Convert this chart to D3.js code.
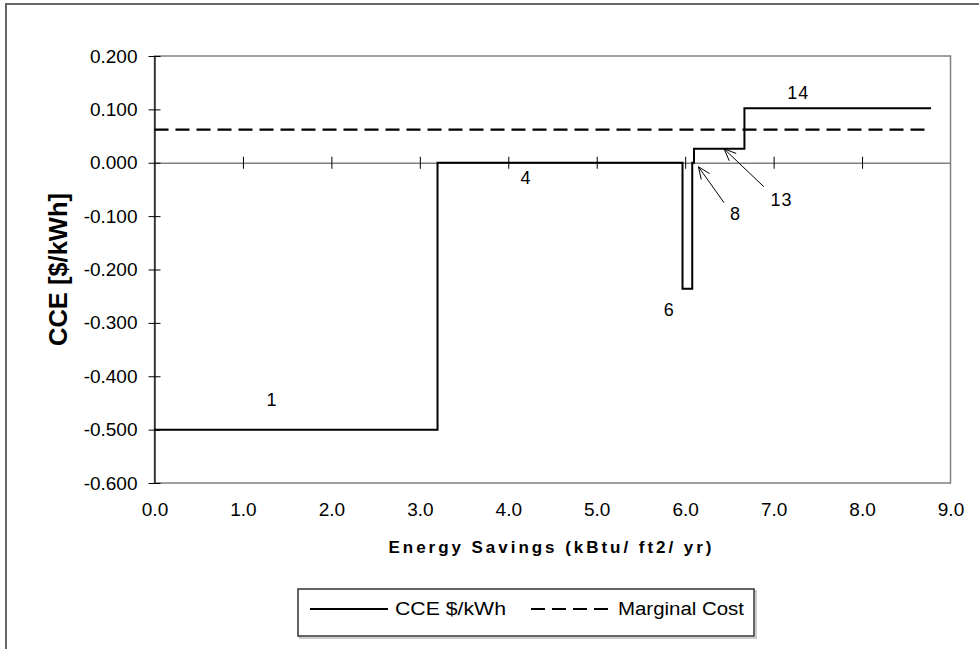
<!DOCTYPE html>
<html>
<head>
<meta charset="utf-8">
<script src="https://d3js.org/d3.v7.min.js"></script>
<style>
  body { margin: 0; background: #fff; }
  svg { display: block; font-family: "Liberation Sans", Arial, sans-serif; }
</style>
</head>
<body>
<svg id="chart" width="979" height="649"></svg>
<script>
// step breakpoints of the conserved-energy supply curve
const savingsBreaks = [0, 3.2, 5.97, 6.08, 6.10, 6.67, 8.78];
const cceValues = [-0.5, 0, -0.236, 0, 0.026, 0.102];
const marginalCost = 0.062;

const xTicks = [0, 1, 2, 3, 4, 5, 6, 7, 8, 9];
const yTicks = [0.2, 0.1, 0, -0.1, -0.2, -0.3, -0.4, -0.5, -0.6];

// measure numbers written on the curve
const measureLabels = ['1', '4', '6', '8', '13', '14'];
const labelX = [1.33, 4.20, 5.82, 6.57, 7.09, 7.28];
const labelY = [-0.444, -0.028, -0.276, -0.095, -0.069, 0.132];

// arrows for measures 8 and 13 (from, to)
const arrowFromX = [6.44, 6.89];
const arrowFromY = [-0.075, -0.045];
const arrowToX = [6.15, 6.44];
const arrowToY = [-0.0075, 0.026];

const svg = d3.select('#chart');

// outer chart frame
svg.append('rect')
  .attr('x', 6).attr('y', 4)
  .attr('width', 1000).attr('height', 700)
  .attr('fill', 'none')
  .attr('stroke', '#666')
  .attr('stroke-width', 2);

const plotL = 154.5, plotR = 950.5, plotT = 56, plotB = 483;

const x = d3.scaleLinear().domain([0, 9]).range([plotL, plotR]);
const y = d3.scaleLinear().domain([-0.6, 0.2]).range([plotB, plotT]);

// plot area border
svg.append('rect')
  .attr('x', plotL).attr('y', plotT)
  .attr('width', plotR - plotL).attr('height', plotB - plotT)
  .attr('fill', 'none')
  .attr('stroke', '#808080')
  .attr('stroke-width', 1.5);

// zero line with crossing ticks
const zeroAxis = svg.append('g')
  .attr('transform', 'translate(0,' + y(0) + ')')
  .call(d3.axisBottom(x).tickValues(xTicks.slice(1, -1)).tickSize(6).tickSizeOuter(0).tickFormat(''));
zeroAxis.select('.domain').attr('stroke', '#808080').attr('stroke-width', 1.5);
zeroAxis.selectAll('.tick line').attr('y1', -6).attr('y2', 6).attr('stroke', '#000');

// x tick labels under the plot
const xLab = svg.append('g')
  .attr('transform', 'translate(0,' + plotB + ')')
  .call(d3.axisBottom(x).tickValues(xTicks).tickSize(0).tickPadding(20).tickFormat(d => d.toFixed(1)));
xLab.select('.domain').remove();
xLab.selectAll('text')
  .attr('font-family', '"Liberation Sans", Arial, sans-serif')
  .attr('font-size', 19)
  .attr('fill', '#000');

// y axis
const yAxis = svg.append('g')
  .attr('transform', 'translate(' + plotL + ',0)')
  .call(d3.axisLeft(y).tickValues(yTicks).tickSize(6).tickSizeOuter(0).tickPadding(11).tickFormat(d => d.toFixed(3)));
yAxis.select('.domain').attr('stroke', '#000').attr('stroke-width', 1.2);
yAxis.selectAll('.tick line').attr('x1', 6).attr('x2', -6).attr('stroke', '#000');
yAxis.selectAll('text')
  .attr('font-family', '"Liberation Sans", Arial, sans-serif')
  .attr('font-size', 19)
  .attr('fill', '#000');

// marginal cost dashed line
svg.append('line')
  .attr('x1', x(0)).attr('x2', x(savingsBreaks[savingsBreaks.length - 1]))
  .attr('y1', y(marginalCost)).attr('y2', y(marginalCost))
  .attr('stroke', '#000')
  .attr('stroke-width', 2.2)
  .attr('stroke-dasharray', '14,7');

// CCE step curve
const stepPoints = savingsBreaks.map((s, i) => [s, i < cceValues.length ? cceValues[i] : cceValues[cceValues.length - 1]]);
const stepLine = d3.line()
  .x(d => x(d[0]))
  .y(d => y(d[1]))
  .curve(d3.curveStepAfter);
svg.append('path')
  .datum(stepPoints)
  .attr('d', stepLine)
  .attr('fill', 'none')
  .attr('stroke', '#000')
  .attr('stroke-width', 2);

// measure labels
svg.selectAll('.measure')
  .data(measureLabels)
  .enter()
  .append('text')
  .attr('class', 'measure')
  .attr('x', (d, i) => x(labelX[i]))
  .attr('y', (d, i) => y(labelY[i]))
  .attr('dy', '0.35em')
  .attr('text-anchor', 'middle')
  .attr('font-size', 18)
  .attr('letter-spacing', 1)
  .text(d => d);

// arrows with open heads
arrowFromX.forEach((fx, i) => {
  const x1 = x(fx), y1 = y(arrowFromY[i]);
  const x2 = x(arrowToX[i]), y2 = y(arrowToY[i]);
  const ang = Math.atan2(y1 - y2, x1 - x2);
  const len = 13, spread = 0.4;
  svg.append('line')
    .attr('x1', x1).attr('y1', y1).attr('x2', x2).attr('y2', y2)
    .attr('stroke', '#000').attr('stroke-width', 1);
  svg.append('path')
    .attr('d', 'M' + (x2 + len * Math.cos(ang + spread)) + ',' + (y2 + len * Math.sin(ang + spread)) +
      'L' + x2 + ',' + y2 +
      'L' + (x2 + len * Math.cos(ang - spread)) + ',' + (y2 + len * Math.sin(ang - spread)))
    .attr('fill', 'none').attr('stroke', '#000').attr('stroke-width', 1);
});

// axis titles
svg.append('text')
  .attr('transform', 'translate(67,' + (plotT + plotB) / 2 + ') rotate(-90)')
  .attr('text-anchor', 'middle')
  .attr('font-size', 26)
  .attr('font-weight', 'bold')
  .attr('textLength', 153)
  .attr('lengthAdjust', 'spacingAndGlyphs')
  .text('CCE [$/kWh]');

svg.append('text')
  .attr('x', 550).attr('y', 553)
  .attr('text-anchor', 'middle')
  .attr('font-size', 17)
  .attr('font-weight', 'bold')
  .attr('textLength', 323)
  .attr('lengthAdjust', 'spacing')
  .text('Energy Savings (kBtu/ ft2/ yr)');

// legend
const legend = svg.append('g');
legend.append('rect')
  .attr('x', 300).attr('y', 591).attr('width', 456).attr('height', 47)
  .attr('fill', 'none').attr('stroke', '#bbb').attr('stroke-width', 1.5);
legend.append('rect')
  .attr('x', 298).attr('y', 589).attr('width', 456).attr('height', 47)
  .attr('fill', '#fff').attr('stroke', '#333').attr('stroke-width', 1.5);
legend.append('line')
  .attr('x1', 310).attr('x2', 388).attr('y1', 609).attr('y2', 609)
  .attr('stroke', '#000').attr('stroke-width', 2);
legend.append('text')
  .attr('x', 395).attr('y', 615)
  .attr('font-size', 18)
  .attr('textLength', 111)
  .attr('lengthAdjust', 'spacingAndGlyphs')
  .text('CCE $/kWh');
legend.append('line')
  .attr('x1', 531).attr('x2', 611).attr('y1', 609).attr('y2', 609)
  .attr('stroke', '#000').attr('stroke-width', 2.2)
  .attr('stroke-dasharray', '14,7');
legend.append('text')
  .attr('x', 618).attr('y', 615)
  .attr('font-size', 18)
  .attr('textLength', 126)
  .attr('lengthAdjust', 'spacingAndGlyphs')
  .text('Marginal Cost');
</script>
</body>
</html>
